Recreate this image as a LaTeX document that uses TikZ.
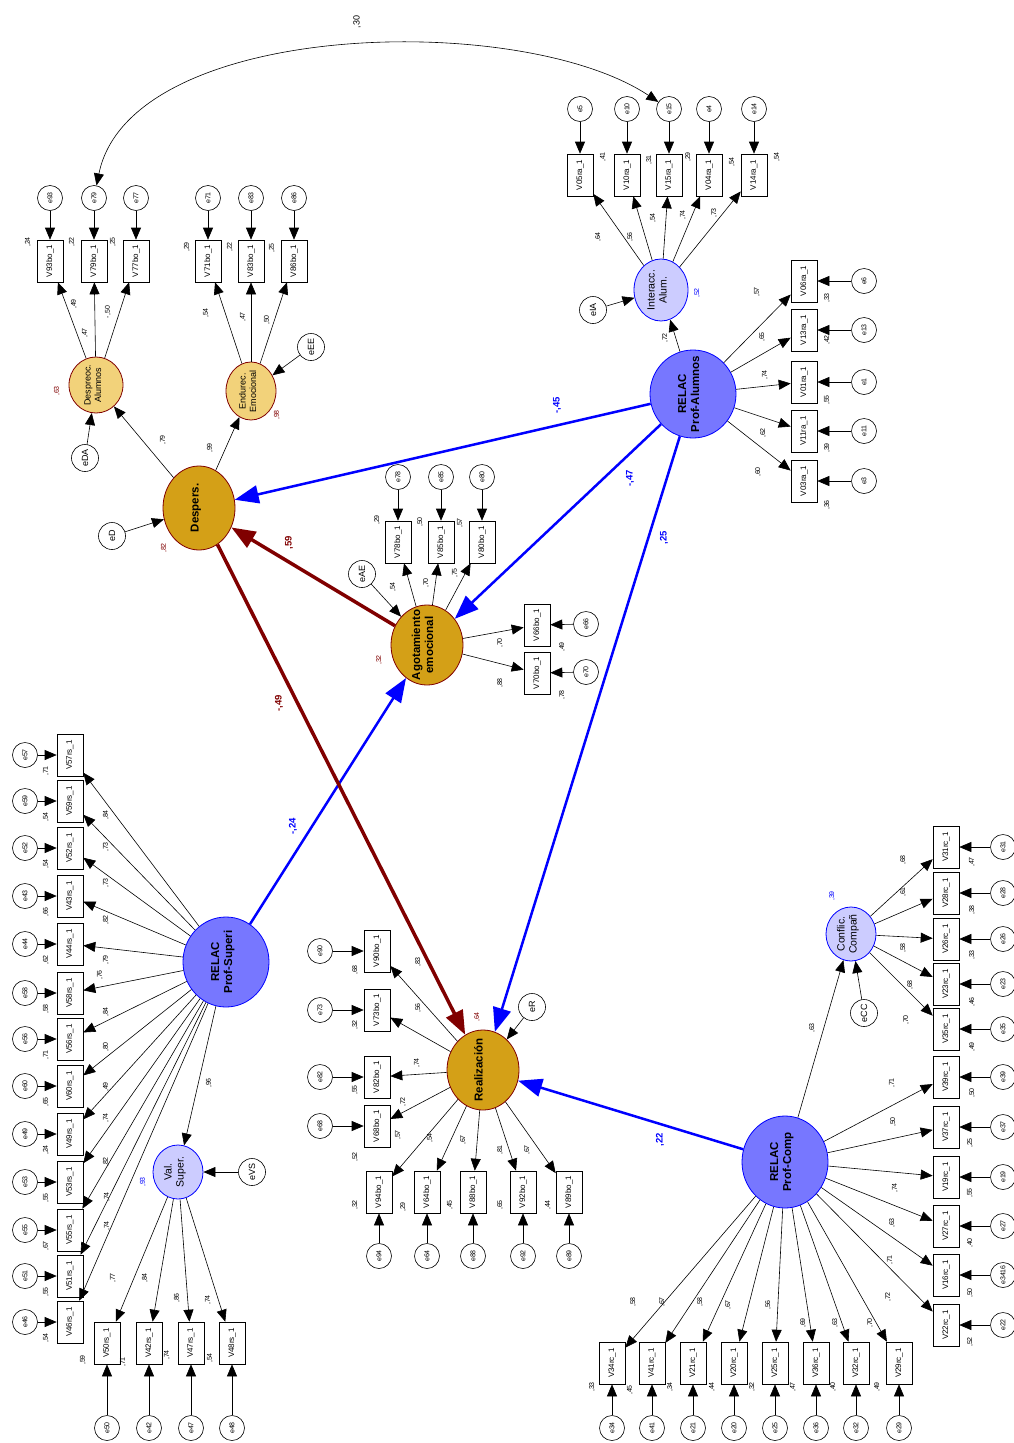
\documentclass[tikz,border=0pt]{standalone}
\usepackage{fontspec}
\setmainfont{Liberation Sans}
\usetikzlibrary{arrows.meta,shapes.geometric}
\definecolor{gold}{RGB}{212,160,23}
\definecolor{lgold}{RGB}{242,210,122}
\definecolor{dblue}{RGB}{119,119,255}
\definecolor{lblue}{RGB}{204,204,255}
\definecolor{dred}{RGB}{128,0,0}
\definecolor{pblue}{RGB}{0,0,255}
\newcounter{lc}
\newcommand\lab[4][]{\stepcounter{lc}\node[num,#1] (lab\thelc) at (#2,#3) {#4};}
\newcommand\cbox[1]{\smash{\makebox[0pt]{\begin{tabular}{@{}c@{}}#1\end{tabular}}}}
\begin{document}
\begin{tikzpicture}[x=1pt,y=-1pt,
  obs/.style={draw, rectangle, rotate=90, minimum width=42pt, minimum height=26pt, inner sep=0pt, fill=white, font=\fontsize{8}{9}\selectfont, line width=0.6pt},
  err/.style={draw, circle, rotate=90, minimum size=25pt, inner sep=0pt, fill=white, font=\fontsize{7}{8}\selectfont, line width=0.6pt},
  dist/.style={err, minimum size=27pt, font=\fontsize{9}{10}\selectfont},
  num/.style={rotate=90, inner sep=0pt, font=\fontsize{7}{8}\selectfont},
  pth/.style={font=\bfseries\fontsize{9.5}{11}\selectfont},
  arr/.style={-{Triangle[length=12pt,width=10pt]}, line width=0.6pt},
  lat/.style={ellipse, draw, rotate=90, inner sep=0pt, line width=0.8pt},
  goldlat/.style={lat, fill=gold, draw=dred, font=\bfseries\fontsize{11.5}{13}\selectfont},
  lgoldlat/.style={lat, fill=lgold, draw=dred, font=\fontsize{9}{10.5}\selectfont},
  bluelat/.style={lat, fill=dblue, draw=pblue, font=\bfseries\fontsize{11.5}{13}\selectfont},
  lbluelat/.style={lat, fill=lblue, draw=pblue, font=\fontsize{10.5}{12}\selectfont},
  bpath/.style={draw=pblue, line width=2.5pt, -{Triangle[length=24pt,width=18pt]}},
  rpath/.style={draw=dred, line width=3.5pt, -{Triangle[length=24pt,width=18pt]}},
  cov/.style={{Triangle[length=12pt,width=10pt]}-{Triangle[length=12pt,width=10pt]}, line width=0.6pt}
]
\useasboundingbox (0,0) rectangle (1014,1443);

% ---------- latent variables ----------
\node[goldlat, minimum width=84pt, minimum height=72pt] (Desp) at (199,508) {\cbox{Despers.}};
\node[lgoldlat, minimum width=56pt, minimum height=54pt] (DA) at (96,385) {\cbox{Despreoc.\\Alumnos}};
\node[lgoldlat, minimum width=58pt, minimum height=50pt] (EE) at (251,391) {\cbox{Endurec.\\Emocional}};
\node[goldlat, minimum width=80pt, minimum height=72pt] (Agot) at (427,645) {\cbox{Agotamiento\\emocional}};
\node[goldlat, minimum width=80pt, minimum height=72pt] (Real) at (483,1070) {\cbox{Realización}};
\node[bluelat, minimum width=88pt, minimum height=86pt] (PA) at (693,394) {\cbox{RELAC\\Prof-Alumnos}};
\node[lbluelat, minimum width=62pt, minimum height=54pt] (IA) at (661,290) {\cbox{Interacc.\\Alum.}};
\node[bluelat, minimum width=90pt, minimum height=86pt] (PS) at (226,962) {\cbox{RELAC\\Prof-Superi}};
\node[lbluelat, minimum width=54pt, minimum height=50pt] (VS) at (178,1172) {\cbox{Val.\\Super.}};
\node[lbluelat, minimum width=54pt, minimum height=50pt] (CC) at (851,934) {\cbox{Conflic.\\Compañ}};
\node[bluelat, minimum width=92pt, minimum height=86pt] (PC) at (785,1162) {\cbox{RELAC\\Prof-Comp}};

% ---------- disturbances ----------
\foreach \n/\x/\y in {eD/112/536, eDA/85/458, eEE/311/347, eAE/362/574, eR/532/1007, eIA/593/310, eVS/252/1172, eCC/864/1013}
  \node[dist] (\n) at (\x,\y) {\n};

% ---------- observed variables ----------
\foreach \n/\s/\x/\y in {
  V93/bo/50/261, V79/bo/94/261, V77/bo/136/261,
  V71/bo/208/261, V83/bo/251/261, V86/bo/294/261,
  V05/ra/580/175, V10/ra/627/175, V15/ra/669/175, V04/ra/709/175, V14/ra/754/175,
  V06/ra/804/281, V13/ra/804/330, V01/ra/804/382, V11/ra/804/431, V03/ra/804/481,
  V78/bo/398/542, V85/bo/441/542, V80/bo/482/542, V66/bo/537/625, V70/bo/537/673,
  V90/bo/377/951, V73/bo/377/1010, V82/bo/377/1077, V68/bo/377/1126,
  V94/bo/379/1192, V64/bo/427/1192, V88/bo/473/1192, V92/bo/523/1192, V89/bo/569/1192,
  V57/rs/70/755, V59/rs/70/801, V52/rs/70/848, V43/rs/70/896, V44/rs/70/944, V58/rs/70/993,
  V56/rs/70/1039, V60/rs/70/1086, V49/rs/70/1134, V53/rs/70/1182, V55/rs/70/1230, V51/rs/70/1276, V46/rs/70/1322,
  V50/rs/107/1343, V42/rs/149/1343, V47/rs/191/1343, V48/rs/232/1343,
  V31/rc/946/847, V28/rc/946/893, V26/rc/946/939, V23/rc/946/984, V35/rc/946/1029,
  V39/rc/946/1077, V37/rc/946/1127, V19/rc/946/1177, V27/rc/946/1226, V16/rc/946/1275, V22/rc/946/1325,
  V34/rc/612/1363, V41/rc/652/1363, V21/rc/693/1363, V20/rc/734/1363, V25/rc/775/1363, V36/rc/816/1363, V32/rc/856/1363, V29/rc/899/1363}
  \node[obs] (\n) at (\x,\y) {\n\s\_1};

% ---------- error terms ----------
\foreach \n/\x/\y in {
  e93/50/198, e79/94/198, e77/136/198, e71/208/198, e83/251/198, e86/294/198,
  e5/580/109, e10/627/109, e15/669/109, e4/709/109, e14/754/109,
  e6/864/281, e13/864/330, e1/864/382, e11/864/431, e3/864/481,
  e78/398/477, e85/441/477, e80/482/477, e66/586/624, e70/586/672,
  e90/320/951, e73/320/1010, e82/320/1077, e68/320/1126,
  e94/379/1256, e64/427/1256, e88/473/1256, e92/523/1256, e89/569/1256,
  e57/25/755, e59/25/801, e52/25/848, e43/25/896, e44/25/944, e58/25/993,
  e56/25/1039, e60/25/1086, e49/25/1134, e53/25/1182, e55/25/1230, e51/25/1276, e46/25/1322,
  e50/107/1428, e42/149/1428, e47/191/1428, e48/232/1428,
  e31/1003/847, e28/1003/893, e26/1003/939, e23/1003/984, e35/1003/1029,
  e39/1003/1077, e37/1003/1127, e19/1003/1177, e27/1003/1226, e3416/1003/1275, e22/1003/1325,
  e34/612/1428, e41/652/1428, e21/693/1428, e20/734/1428, e25/775/1428, e36/816/1428, e32/856/1428, e29/899/1428}
  \node[err] (\n) at (\x,\y) {\n};

% ---------- error -> indicator ----------
\foreach \a/\b in {
  e93/V93, e79/V79, e77/V77, e71/V71, e83/V83, e86/V86,
  e5/V05, e10/V10, e15/V15, e4/V04, e14/V14,
  e6/V06, e13/V13, e1/V01, e11/V11, e3/V03,
  e78/V78, e85/V85, e80/V80, e66/V66, e70/V70,
  e90/V90, e73/V73, e82/V82, e68/V68, e94/V94, e64/V64, e88/V88, e92/V92, e89/V89,
  e57/V57, e59/V59, e52/V52, e43/V43, e44/V44, e58/V58, e56/V56, e60/V60, e49/V49, e53/V53, e55/V55, e51/V51, e46/V46,
  e50/V50, e42/V42, e47/V47, e48/V48,
  e31/V31, e28/V28, e26/V26, e23/V23, e35/V35, e39/V39, e37/V37, e19/V19, e27/V27, e3416/V16, e22/V22,
  e34/V34, e41/V41, e21/V21, e20/V20, e25/V25, e36/V36, e32/V32, e29/V29,
  eD/Desp, eDA/DA, eEE/EE, eAE/Agot, eR/Real, eIA/IA, eVS/VS, eCC/CC}
  \draw[arr] (\a) -- (\b);

% ---------- loadings ----------
\foreach \a/\b in {
  DA/V93, DA/V79, DA/V77, EE/V71, EE/V83, EE/V86, Desp/DA, Desp/EE,
  IA/V05, IA/V10, IA/V15, IA/V04, IA/V14, PA/IA,
  PA/V06, PA/V13, PA/V01, PA/V11, PA/V03,
  Agot/V78, Agot/V85, Agot/V80, Agot/V66, Agot/V70,
  Real/V90, Real/V73, Real/V82, Real/V68, Real/V94, Real/V64, Real/V88, Real/V92, Real/V89,
  PS/V57, PS/V59, PS/V52, PS/V43, PS/V44, PS/V58, PS/V56, PS/V60, PS/V49, PS/V53, PS/V55, PS/V51, PS/V46, PS/VS,
  VS/V50, VS/V42, VS/V47, VS/V48,
  PC/CC, CC/V31, CC/V28, CC/V26, CC/V23, CC/V35,
  PC/V39, PC/V37, PC/V19, PC/V27, PC/V16, PC/V22,
  PC/V34, PC/V41, PC/V21, PC/V20, PC/V25, PC/V36, PC/V32, PC/V29}
  \draw[arr] (\a) -- (\b);

% ---------- structural paths ----------
\draw[bpath] (PA) -- (Desp);
\draw[bpath] (PA) -- (Agot);
\draw[bpath] (PA) -- (Real);
\draw[bpath] (PS) -- (Agot);
\draw[bpath] (PC) -- (Real);
\draw[rpath] (Agot) -- (Desp);
\draw[rpath] (Desp) -- (Real);

% covariance
\draw[cov] (e79) .. controls (130,20) and (520,10) .. (e15);
\lab[font=\fontsize{9}{10}\selectfont]{357}{22}{,30}

% ---------- path coefficients ----------
\lab[pth, text=pblue]{557}{405}{-,45}
\lab[pth, text=pblue]{630}{478}{-,47}
\lab[pth, text=pblue]{664}{538}{,25}
\lab[pth, text=dred]{289}{543}{,59}
\lab[pth, text=dred]{279}{703}{-,49}
\lab[pth, text=pblue]{293}{826}{-,24}
\lab[pth, text=pblue]{660}{1140}{,22}

% ---------- squared multiple correlations of latents ----------
\lab[text=dred]{57}{391}{,63}
\lab[text=dred]{277}{415}{,98}
\lab[text=dred]{164}{548}{,82}
\lab[text=dred]{379}{660}{,32}
\lab[text=dred]{477}{1017}{,64}
\lab[text=pblue]{697}{293}{,52}
\lab[text=pblue]{143}{1182}{,93}
\lab[text=pblue]{832}{896}{,39}

% ---------- Despreoc / Endurec labels ----------
\lab{28}{242}{,24} \lab{72}{242}{,22} \lab{113}{242}{,25}
\lab{74}{304}{,49} \lab{85}{333}{,47} \lab{108}{312}{-,50}
\lab{163}{440}{,79}
\lab{187}{247}{,29} \lab{230}{247}{,22} \lab{272}{248}{,25}
\lab{206}{313}{,54} \lab{243}{317}{,47} \lab{267}{320}{,50}
\lab{210}{448}{,99}

% ---------- Interacc / Prof-Alumnos ----------
\lab{603}{157}{,41} \lab{649}{160}{,31} \lab{688}{157}{,29} \lab{732}{162}{,54} \lab{777}{157}{,54}
\lab{598}{237}{,64} \lab{630}{237}{,56} \lab{653}{218}{,54} \lab{683}{215}{,74} \lab{714}{213}{,73}
\lab{665}{338}{,72}
\lab{827}{298}{,33} \lab{827}{340}{,42} \lab{827}{400}{,55} \lab{827}{448}{,39} \lab{827}{505}{,36}
\lab{757}{292}{,57} \lab{762}{337}{,65} \lab{765}{375}{,74} \lab{763}{433}{,62} \lab{758}{472}{,60}

% ---------- Agotamiento ----------
\lab{377}{520}{,29} \lab{420}{522}{,50} \lab{460}{523}{,57}
\lab{393}{587}{,54} \lab{426}{583}{,70} \lab{455}{573}{,75}
\lab{500}{643}{,70} \lab{500}{683}{,88} \lab{562}{647}{,49} \lab{562}{695}{,78}

% ---------- Realizacion ----------
\lab{355}{970}{,68} \lab{355}{1025}{,32} \lab{355}{1090}{,55} \lab{355}{1157}{,52}
\lab{418}{962}{,83} \lab{418}{1008}{,56} \lab{417}{1063}{,74} \lab{403}{1102}{,72} \lab{398}{1135}{,57}
\lab{355}{1205}{,32} \lab{403}{1207}{,29} \lab{450}{1205}{,45} \lab{500}{1205}{,65} \lab{548}{1205}{,44}
\lab{430}{1138}{,54} \lab{463}{1140}{,67} \lab{500}{1150}{,81} \lab{527}{1150}{,67}

% ---------- Prof-Superi ----------
\lab{46}{771}{,71} \lab{46}{817}{,54} \lab{46}{864}{,54} \lab{46}{912}{,66} \lab{46}{960}{,62}
\lab{46}{1009}{,58} \lab{46}{1055}{,71} \lab{46}{1102}{,65} \lab{46}{1150}{,24} \lab{46}{1198}{,55}
\lab{46}{1246}{,67} \lab{46}{1292}{,55} \lab{46}{1338}{,54}
\lab{106}{815}{,84} \lab{106}{847}{,73} \lab{106}{883}{,73} \lab{106}{920}{,82} \lab{106}{960}{,79}
\lab{100}{975}{,76} \lab{106}{1012}{,84} \lab{106}{1047}{,80} \lab{106}{1087}{,49} \lab{106}{1118}{,74}
\lab{106}{1162}{,82} \lab{107}{1197}{,74} \lab{107}{1226}{,74}
\lab{209}{1083}{,96}
\lab{113}{1278}{,77} \lab{145}{1278}{,84} \lab{177}{1298}{,86} \lab{208}{1300}{,74}
\lab{83}{1360}{,59} \lab{123}{1362}{,71} \lab{167}{1355}{,74} \lab{210}{1358}{,54}

% ---------- Conflic / Prof-Comp ----------
\lab{812}{1028}{,63}
\lab{972}{862}{,47} \lab{972}{910}{,38} \lab{972}{955}{,33} \lab{972}{1002}{,46} \lab{972}{1047}{,49}
\lab{903}{860}{,68} \lab{903}{892}{,61} \lab{903}{948}{,58} \lab{910}{985}{,68} \lab{906}{1020}{,70}
\lab{972}{1093}{,50} \lab{970}{1143}{,25} \lab{970}{1193}{,55} \lab{970}{1243}{,40} \lab{970}{1293}{,50} \lab{970}{1342}{,52}
\lab{892}{1083}{,71} \lab{893}{1122}{,50} \lab{895}{1188}{,74} \lab{892}{1223}{,63} \lab{890}{1260}{,71} \lab{888}{1297}{,72}
\lab{592}{1387}{,33} \lab{630}{1390}{,45} \lab{670}{1387}{,34} \lab{712}{1387}{,44}
\lab{752}{1387}{,32} \lab{793}{1387}{,47} \lab{833}{1387}{,40} \lab{877}{1387}{,49}
\lab{633}{1302}{,58} \lab{662}{1302}{,67} \lab{700}{1302}{,58} \lab{728}{1305}{,67}
\lab{768}{1305}{,56} \lab{803}{1323}{,69} \lab{835}{1323}{,63} \lab{870}{1323}{,70}
\end{tikzpicture}
\end{document}
